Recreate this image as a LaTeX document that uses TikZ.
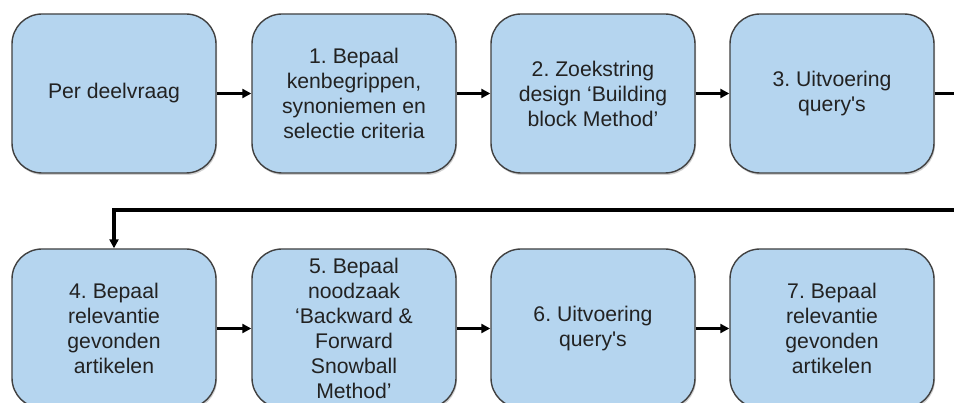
\documentclass[tikz,border=0pt]{standalone}
\usepackage{fontspec}
\setmainfont{Liberation Sans}
\usetikzlibrary{arrows.meta,shadows}
\definecolor{boxfill}{HTML}{B5D5EF}
\definecolor{boxdraw}{HTML}{404040}
\definecolor{txt}{HTML}{222222}
\frenchspacing
\begin{document}
\begin{tikzpicture}[x=1pt,y=-1pt,
  stepbox/.style={draw=boxdraw, line width=1.4pt, fill=boxfill, rounded corners=30pt,
    minimum width=204pt, minimum height=159pt, inner sep=0pt, align=center, text=txt,
    font=\fontsize{21.2pt}{25pt}\selectfont,
    drop shadow={shadow xshift=1pt, shadow yshift=-2pt, fill=black, opacity=0.18}},
  arr/.style={draw=black, line width=3.2pt, -{Triangle[length=9pt,width=9pt]}}]
\useasboundingbox (0,0) rectangle (954,403);
\clip (0,0) rectangle (954,403);
\fill[white] (0,0) rectangle (954,403);
\node[stepbox] (b0) at (114,93.5) {Per deelvraag};
\node[stepbox] (b1) at (354,93.5) {1. Bepaal\\kenbegrippen,\\synoniemen en\\selectie criteria};
\node[stepbox] (b2) at (593,93.5) {2. Zoekstring\\design ‘Building\\block Method’};
\node[stepbox] (b3) at (832,93.5) {3. Uitvoering\\query\textquotesingle s};
\node[stepbox] (b4) at (114,328.5) {4. Bepaal\\relevantie\\gevonden\\artikelen};
\node[stepbox] (b5) at (354,328.5) {5. Bepaal\\noodzaak\\‘Backward \&\\Forward\\Snowball\\Method’};
\node[stepbox] (b6) at (593,328.5) {6. Uitvoering\\query\textquotesingle s};
\node[stepbox] (b7) at (832,328.5) {7. Bepaal\\relevantie\\gevonden\\artikelen};
\coordinate (t1) at (980,93.5);
\coordinate (t2) at (980,210);
\draw[arr] (b0) -- (b1);
\draw[arr] (b1) -- (b2);
\draw[arr] (b2) -- (b3);
\draw[arr] (b3.east) -- (t1) -- (t2) -| (b4.north);
\draw[arr] (b4) -- (b5);
\draw[arr] (b5) -- (b6);
\draw[arr] (b6) -- (b7);
\end{tikzpicture}
\end{document}
